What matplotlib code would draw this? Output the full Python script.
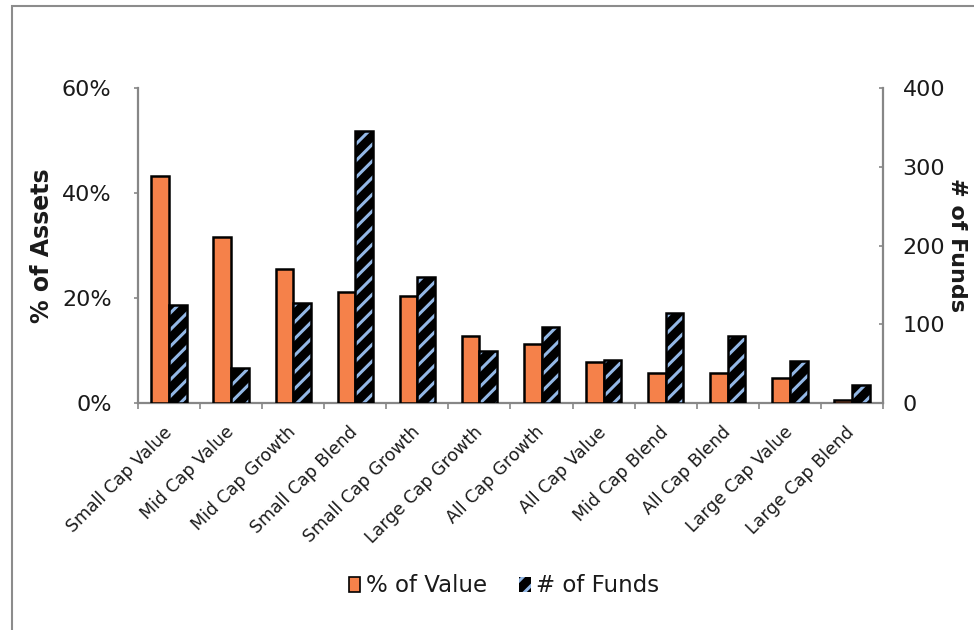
import matplotlib
matplotlib.use("Agg")
import matplotlib.pyplot as plt
import numpy as np
from matplotlib.patches import Patch, Rectangle
from matplotlib.ticker import FuncFormatter, FixedLocator

categories = ["Small Cap Value", "Mid Cap Value", "Mid Cap Growth", "Small Cap Blend",
              "Small Cap Growth", "Large Cap Growth", "All Cap Growth", "All Cap Value",
              "Mid Cap Blend", "All Cap Blend", "Large Cap Value", "Large Cap Blend"]
pct_value = [43.2, 31.7, 25.5, 21.1, 20.4, 12.8, 11.2, 7.9, 5.8, 5.8, 4.8, 0.5]
num_funds = [124, 45, 127, 345, 160, 66, 96, 55, 114, 85, 53, 23]
y1_ticks = [0, 20, 40, 60]
y2_ticks = [0, 100, 200, 300, 400]

plt.rcParams['font.family'] = ['DejaVu Sans']
plt.rcParams['hatch.linewidth'] = 2.2

ORANGE = '#F5814A'
HATCH_BLUE = '#93B8E6'
GRAY = '#878787'
TXT = '#1a1a1a'

fig = plt.figure(figsize=(9.74, 6.3), dpi=100)
ax = fig.add_axes([138/974, 1-403/630, (883-138)/974, (403-88)/630])
ax2 = ax.twinx()

x = np.arange(len(categories))
w = 0.285
ax.bar(x - w/2, pct_value, width=w, color=ORANGE, edgecolor='black', linewidth=1.8, zorder=3)
ax2.bar(x + w/2, num_funds, width=w, facecolor='black', edgecolor=HATCH_BLUE, hatch='//',
        linewidth=0, zorder=3)
ax2.bar(x + w/2, num_funds, width=w, fill=False, edgecolor='black', linewidth=1.8, zorder=4)

ax.set_xlim(-0.5, len(categories) - 0.5)
ax.set_ylim(0, 60)
ax2.set_ylim(0, 400)
ax.set_yticks(y1_ticks)
ax.yaxis.set_major_formatter(FuncFormatter(lambda v, p: f"{int(v)}%"))
ax2.set_yticks(y2_ticks)

ax.set_xticks(x)
ax.set_xticklabels(categories, rotation=45, ha='right', va='center', rotation_mode='anchor',
                   fontsize=12.5, color=TXT)
ax.xaxis.set_minor_locator(FixedLocator(np.arange(-0.5, len(categories), 1.0)))
ax.tick_params(axis='x', which='major', length=0, pad=19)
ax.tick_params(axis='x', which='minor', length=4, width=1.2, color=GRAY, direction='out')
ax.tick_params(axis='y', length=3, width=1.2, color=GRAY, direction='out', pad=16,
               labelsize=16, labelcolor=TXT)
ax2.tick_params(axis='y', length=3, width=1.2, color=GRAY, direction='in', pad=14,
                labelsize=16, labelcolor=TXT)

for a in (ax, ax2):
    for s in a.spines.values():
        s.set_visible(False)
ax.spines['left'].set_visible(True)
ax.spines['bottom'].set_visible(True)
ax2.spines['right'].set_visible(True)
for s in (ax.spines['left'], ax.spines['bottom'], ax2.spines['right']):
    s.set_color(GRAY)
    s.set_linewidth(1.6)

ax.set_ylabel("% of Assets", fontsize=17, fontweight='bold', color=TXT)
ax.yaxis.set_label_coords((54-138)/745, 0.5)
ax2.set_ylabel("# of Funds", fontsize=16, fontweight='bold', color=TXT, rotation=270,
               va='bottom')
ax2.yaxis.set_label_coords((947-138)/745, 0.5)

handles = [Patch(facecolor=ORANGE, edgecolor='black', linewidth=1.2),
           Patch(facecolor='black', edgecolor=HATCH_BLUE, hatch='//', linewidth=0)]
fig.legend(handles, ["% of Value", "# of Funds"], loc='center', bbox_to_anchor=(504/974, 1-586/630),
           ncol=2, frameon=False, fontsize=16.5, handlelength=0.5, handleheight=0.65,
           handletextpad=0.25, columnspacing=1.4, labelcolor=TXT)

fig.add_artist(Rectangle((12/974, -0.1), 1.2, 1.1 - 6/630, transform=fig.transFigure,
                         fill=False, edgecolor='#8c8c8c', linewidth=1.5))

fig.savefig("out.png", dpi=100)
